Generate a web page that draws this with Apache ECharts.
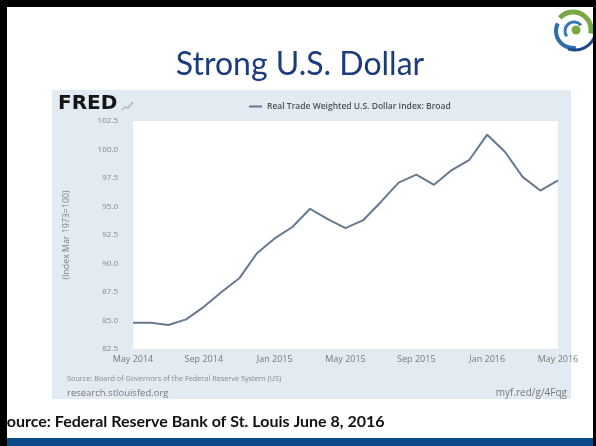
<!DOCTYPE html>
<html>
<head>
<meta charset="utf-8">
<script src="https://cdn.jsdelivr.net/npm/echarts@6/dist/echarts.min.js"></script>
<style>
html,body{margin:0;padding:0;background:#fff;}
#c{width:596px;height:446px;}
</style>
</head>
<body>
<div id="c"></div>
<script>
// ---- data ----
const months = ['May 2014','Jun 2014','Jul 2014','Aug 2014','Sep 2014','Oct 2014','Nov 2014','Dec 2014',
  'Jan 2015','Feb 2015','Mar 2015','Apr 2015','May 2015','Jun 2015','Jul 2015','Aug 2015','Sep 2015',
  'Oct 2015','Nov 2015','Dec 2015','Jan 2016','Feb 2016','Mar 2016','Apr 2016','May 2016'];
const dollarIndex = [84.8,84.8,84.6,85.1,86.2,87.5,88.7,90.9,92.2,93.2,94.8,93.9,93.1,93.8,95.4,97.1,97.8,
  96.9,98.2,99.1,101.3,99.8,97.6,96.4,97.3];
const yMin = 82.5, yMax = 102.5, yStep = 2.5;
const seriesName = 'Real Trade Weighted U.S. Dollar Index: Broad';
const yAxisTitle = '(Index Mar 1973=100)';
const slideTitle = 'Strong U.S. Dollar';
const sourceSmall = 'Source: Board of Governors of the Federal Reserve System (US)';
const siteText = 'research.stlouisfed.org';
const linkText = 'myf.red/g/4Fqg';
const slideSource = 'Source: Federal Reserve Bank of St. Louis June 8, 2016';

const chart = echarts.init(document.getElementById('c'));
const txtFont = '"Open Sans", "DejaVu Sans", sans-serif';
chart.setOption({
  backgroundColor: '#ffffff',
  animation: false,
  grid: { left: 133, right: 38, top: 121, bottom: 97, show: true, backgroundColor: '#ffffff', borderWidth: 0, z: 1 },
  legend: {
    data: [seriesName], left: 244, top: 97, icon: 'rect', itemWidth: 13, itemHeight: 2, itemGap: 5,
    textStyle: { fontFamily: txtFont, fontSize: 8.5, fontWeight: 600, color: '#505050' }
  },
  xAxis: {
    type: 'category', data: months, boundaryGap: false,
    axisLine: { show: false }, axisTick: { show: false },
    axisLabel: { interval: 3, fontFamily: txtFont, fontSize: 9, color: '#7a7a7a', margin: 6, showMaxLabel: true }
  },
  yAxis: {
    type: 'value', min: yMin, max: yMax, interval: yStep,
    name: yAxisTitle, nameLocation: 'middle', nameRotate: 90, nameGap: 62,
    nameTextStyle: { fontFamily: txtFont, fontSize: 8.8, color: '#858585' },
    axisLine: { show: false }, axisTick: { show: false },
    axisLabel: { formatter: v => v.toFixed(1), fontFamily: txtFont, fontSize: 8, color: '#8a8a8a', margin: 15 },
    splitLine: { lineStyle: { color: '#e4e4e4', width: 1 } }
  },
  series: [{
    name: seriesName, type: 'line', data: dollarIndex, showSymbol: false, symbol: 'none',
    lineStyle: { color: '#68798f', width: 2 }, itemStyle: { color: '#68798f' }, z: 5
  }],
  graphic: [
    // FRED panel background
    { type: 'rect', z: -100, shape: { x: 52, y: 90, width: 519, height: 309 }, style: { fill: '#e2eaf2' } },
    // black frame
    { type: 'rect', z: 100, shape: { x: 0, y: 0, width: 596, height: 7 }, style: { fill: '#000' } },
    { type: 'rect', z: 100, shape: { x: 0, y: 0, width: 7, height: 446 }, style: { fill: '#000' } },
    { type: 'rect', z: 100, shape: { x: 593, y: 0, width: 3, height: 446 }, style: { fill: '#000' } },
    // bottom blue band
    { type: 'rect', z: 90, shape: { x: 0, y: 438, width: 596, height: 8 }, style: { fill: '#0b4a88' } },
    // title
    { type: 'text', z: 50, x: 300, y: 65, style: { text: slideTitle, font: '32px Lato, "Open Sans", sans-serif', fill: '#1c3c7a', textAlign: 'center', textVerticalAlign: 'middle' } },
    // FRED logo
    { type: 'text', z: 50, x: 58, y: 104, style: { text: 'FRED', font: '900 20px "DejaVu Sans", sans-serif', fill: '#151515', textAlign: 'left', textVerticalAlign: 'middle' } },
    { type: 'polyline', z: 50, shape: { points: [[122,110],[125,107],[128,108],[133,102]] }, style: { stroke: '#a7b9ca', lineWidth: 1.5, fill: null } },
    // source lines
    { type: 'text', z: 50, x: 67, y: 379, style: { text: sourceSmall, font: '7.3px "Open Sans", sans-serif', fill: '#8a8a8a', textVerticalAlign: 'middle' } },
    { type: 'text', z: 50, x: 67, y: 393, style: { text: siteText, font: '9.5px "Open Sans", sans-serif', fill: '#7a7a7a', textVerticalAlign: 'middle' } },
    { type: 'text', z: 50, x: 567, y: 393, style: { text: linkText, font: '10px "Open Sans", sans-serif', fill: '#7a7a7a', textAlign: 'right', textVerticalAlign: 'middle' } },
    // slide source
    { type: 'text', z: 50, x: -2, y: 422, style: { text: slideSource, font: 'bold 16px Lato, "Open Sans", sans-serif', fill: '#111', textVerticalAlign: 'middle' } },
    // swirl logo
    { type: 'arc', z: 60, shape: { cx: 573, cy: 30, r: 18, startAngle: -2.4, endAngle: 0.2 }, style: { stroke: '#7aa944', lineWidth: 5, fill: null } },
    { type: 'arc', z: 60, shape: { cx: 573, cy: 31, r: 17, startAngle: 1.4, endAngle: 3.6 }, style: { stroke: '#2f6eab', lineWidth: 4, fill: null } },
    { type: 'arc', z: 60, shape: { cx: 575, cy: 29, r: 21, startAngle: 0.3, endAngle: 1.9 }, style: { stroke: '#1e4c8a', lineWidth: 3, fill: null } },
    { type: 'arc', z: 60, shape: { cx: 574, cy: 31, r: 9, startAngle: 2.5, endAngle: 5.6 }, style: { stroke: '#3a78b5', lineWidth: 3, fill: null } },
    { type: 'circle', z: 60, shape: { cx: 576, cy: 30, r: 4.5 }, style: { fill: '#7aa944' } }
  ]
});
</script>
</body>
</html>
